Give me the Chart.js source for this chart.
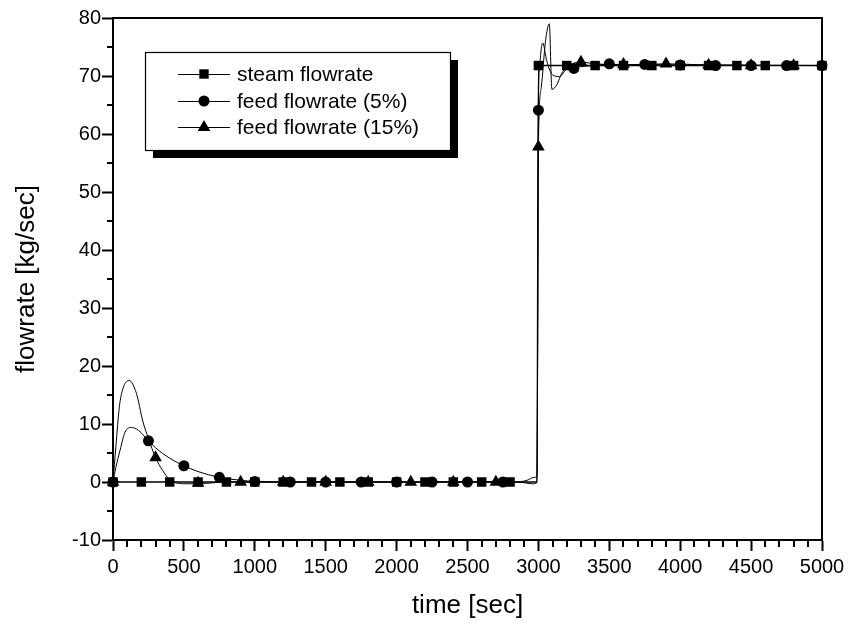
<!DOCTYPE html>
<html>
<head>
<meta charset="utf-8">
<script src="https://cdn.jsdelivr.net/npm/chart.js@4.4.1/dist/chart.umd.min.js"></script>
<style>
  html, body { margin: 0; padding: 0; background: #fff; }
</style>
</head>
<body>
<canvas id="chart" width="851" height="628"></canvas>
<script>
// --- curves ---
const steamLineT = [0, 2800, 2990, 3000, 5000];
const steamLineV = [0, 0, 0, 71.8, 71.8];

const feed5LineT = [0, 20, 50, 85, 130, 180, 250, 300, 400, 500, 600, 750, 900, 1000, 1250, 2000, 2850, 2920, 2970, 2990,
  3000, 3010, 3030, 3060, 3100, 3150, 3200, 3300, 3500, 4000, 5000];
const feed5LineV = [0, 2.5, 5.5, 8.6, 9.4, 8.9, 7.1, 5.9, 4.1, 2.8, 1.8, 0.8, 0.3, 0.1, 0, 0, 0, 0.3, 0.8, 1.0,
  64.1, 72, 75.7, 72.5, 70.2, 69.9, 71.2, 71.6, 72.0, 71.9, 71.8];

const feed15LineT = [0, 20, 45, 70, 113, 165, 210, 250, 300, 350, 400, 500, 600, 700, 800, 1000, 2000, 2850, 2920, 2960, 2990,
  3000, 3020, 3050, 3077, 3095, 3130, 3165, 3230, 3300, 3400, 3600, 3900, 4200, 5000];
const feed15LineV = [0, 6, 13, 16.1, 17.5, 15.3, 10.5, 7.5, 4.2, 2.0, 0.4, -0.3, -0.3, -0.15, 0, 0, 0, 0, -0.2, -0.3, -0.1,
  57.8, 68, 76, 79.0, 67.7, 68.5, 70.5, 72.0, 72.4, 72.1, 71.9, 72.1, 71.9, 71.8];

// --- markers ---
const steamMarkT = [0, 200, 400, 600, 800, 1000, 1200, 1400, 1600, 1800, 2000, 2200, 2400, 2600, 2800,
  3000, 3200, 3400, 3600, 3800, 4000, 4200, 4400, 4600, 4800, 5000];
const steamMarkV = [0, 0, 0, 0, 0, 0, 0, 0, 0, 0, 0, 0, 0, 0, 0,
  71.8, 71.8, 71.8, 71.8, 71.8, 71.8, 71.8, 71.8, 71.8, 71.8, 71.8];

const feed5MarkT = [0, 250, 500, 750, 1000, 1250, 1500, 1750, 2000, 2250, 2500, 2750,
  3000, 3250, 3500, 3750, 4000, 4250, 4500, 4750, 5000];
const feed5MarkV = [0, 7.1, 2.8, 0.8, 0.1, 0, 0, 0, 0, 0, 0, 0,
  64.1, 71.3, 72.1, 72.0, 71.9, 71.8, 71.8, 71.8, 71.8];

const feed15MarkT = [0, 300, 600, 900, 1200, 1500, 1800, 2100, 2400, 2700,
  3000, 3300, 3600, 3900, 4200, 4500, 4800];
const feed15MarkV = [0, 4.2, -0.2, 0, 0, 0, 0, 0, 0, 0,
  57.8, 72.4, 72.0, 72.1, 71.9, 71.8, 71.8];

const seriesNames = ["steam flowrate", "feed flowrate (5%)", "feed flowrate (15%)"];
const seriesStyles = ["rect", "circle", "triangle"];

const FONT = "'Liberation Sans', Arial, sans-serif";

function pts(ts, vs) {
  return ts.map((t, i) => ({ x: t, y: vs[i] }));
}

function lineSet(ts, vs, w) {
  return {
    data: pts(ts, vs),
    borderColor: "#000",
    borderWidth: w,
    pointRadius: 0,
    showLine: true,
    fill: false,
    cubicInterpolationMode: "monotone",
  };
}

function markSet(ts, vs, style, r) {
  return {
    data: pts(ts, vs),
    showLine: false,
    pointStyle: style,
    pointRadius: r,
    pointBackgroundColor: "#000",
    pointBorderColor: "#000",
    pointBorderWidth: 0,
    clip: false,
  };
}

// minor ticks + box frame
const framePlugin = {
  id: "frame",
  afterDraw(chart) {
    const { ctx, chartArea: a, scales } = chart;
    ctx.save();
    ctx.strokeStyle = "#000";
    ctx.lineWidth = 2;
    ctx.strokeRect(a.left, a.top, a.right - a.left, a.bottom - a.top);
    ctx.beginPath();
    for (let t = 100; t < 5000; t += 100) {
      if (t % 500 === 0) continue;
      const x = Math.round(scales.x.getPixelForValue(t));
      ctx.moveTo(x, a.bottom);
      ctx.lineTo(x, a.bottom + 7);
    }
    for (let v = -5; v < 80; v += 10) {
      const y = Math.round(scales.y.getPixelForValue(v));
      ctx.moveTo(a.left, y);
      ctx.lineTo(a.left - 6, y);
    }
    ctx.stroke();
    ctx.restore();
  }
};

function drawMarker(ctx, style, x, y) {
  ctx.beginPath();
  if (style === "rect") {
    ctx.rect(x - 4.7, y - 4.7, 9.4, 9.4);
  } else if (style === "circle") {
    ctx.arc(x, y, 5.5, 0, Math.PI * 2);
  } else {
    ctx.moveTo(x, y - 7);
    ctx.lineTo(x + 6.3, y + 4);
    ctx.lineTo(x - 6.3, y + 4);
    ctx.closePath();
  }
  ctx.fill();
}

// legend box with drop shadow
const legendPlugin = {
  id: "boxLegend",
  afterDraw(chart) {
    const ctx = chart.ctx;
    const bx = 145, by = 52, bw = 305, bh = 98, sh = 8;
    ctx.save();
    ctx.fillStyle = "#000";
    ctx.fillRect(bx + sh, by + sh, bw, bh);
    ctx.fillStyle = "#fff";
    ctx.fillRect(bx, by, bw, bh);
    ctx.strokeStyle = "#000";
    ctx.lineWidth = 1.2;
    ctx.strokeRect(bx + 0.5, by + 0.5, bw, bh);
    const rows = [74, 101, 127];
    ctx.font = "21px " + FONT;
    ctx.textBaseline = "middle";
    ctx.fillStyle = "#000";
    seriesNames.forEach((name, i) => {
      const y = rows[i];
      ctx.lineWidth = 1;
      ctx.beginPath();
      ctx.moveTo(178, y + 0.5);
      ctx.lineTo(230, y + 0.5);
      ctx.stroke();
      drawMarker(ctx, seriesStyles[i], 204, y);
      ctx.fillText(name, 237, y + 1);
    });
    ctx.restore();
  }
};

const axisCommon = {
  type: "linear",
  grid: {
    display: true,
    drawOnChartArea: false,
    drawTicks: true,
    tickLength: 11,
    tickWidth: 2,
    tickColor: "#000",
  },
  border: { display: true, color: "#000", width: 2 },
};

new Chart(document.getElementById("chart"), {
  type: "scatter",
  data: {
    datasets: [
      markSet(steamMarkT, steamMarkV, "rect", 6.7),
      markSet(feed5MarkT, feed5MarkV, "circle", 5.5),
      markSet(feed15MarkT, feed15MarkV, "triangle", 7.3),
      lineSet(steamLineT, steamLineV, 1.4),
      lineSet(feed5LineT, feed5LineV, 1),
      lineSet(feed15LineT, feed15LineV, 1),
    ]
  },
  options: {
    responsive: false,
    animation: false,
    devicePixelRatio: 1,
    layout: { padding: { left: 0, top: 18, right: 29, bottom: 0 } },
    plugins: {
      legend: { display: false },
      tooltip: { enabled: false },
    },
    scales: {
      x: {
        ...axisCommon,
        position: "bottom",
        min: 0, max: 5000,
        ticks: { stepSize: 500, color: "#000", font: { family: FONT, size: 20 }, padding: 4, maxRotation: 0,
          callback: v => String(v) },
        title: { display: true, text: "time [sec]", color: "#000", font: { family: FONT, size: 26 }, padding: { top: 0, bottom: 7 } },
        afterFit(scale) { scale.height = 88; },
      },
      y: {
        ...axisCommon,
        position: "left",
        min: -10, max: 80,
        ticks: { stepSize: 10, color: "#000", font: { family: FONT, size: 20 }, padding: 1,
          callback: v => String(v) },
        title: { display: true, text: "flowrate [kg/sec]", color: "#000", font: { family: FONT, size: 26 }, padding: { top: 11, bottom: 0 } },
        afterFit(scale) { scale.width = 113; },
      }
    }
  },
  plugins: [framePlugin, legendPlugin]
});
</script>
</body>
</html>
